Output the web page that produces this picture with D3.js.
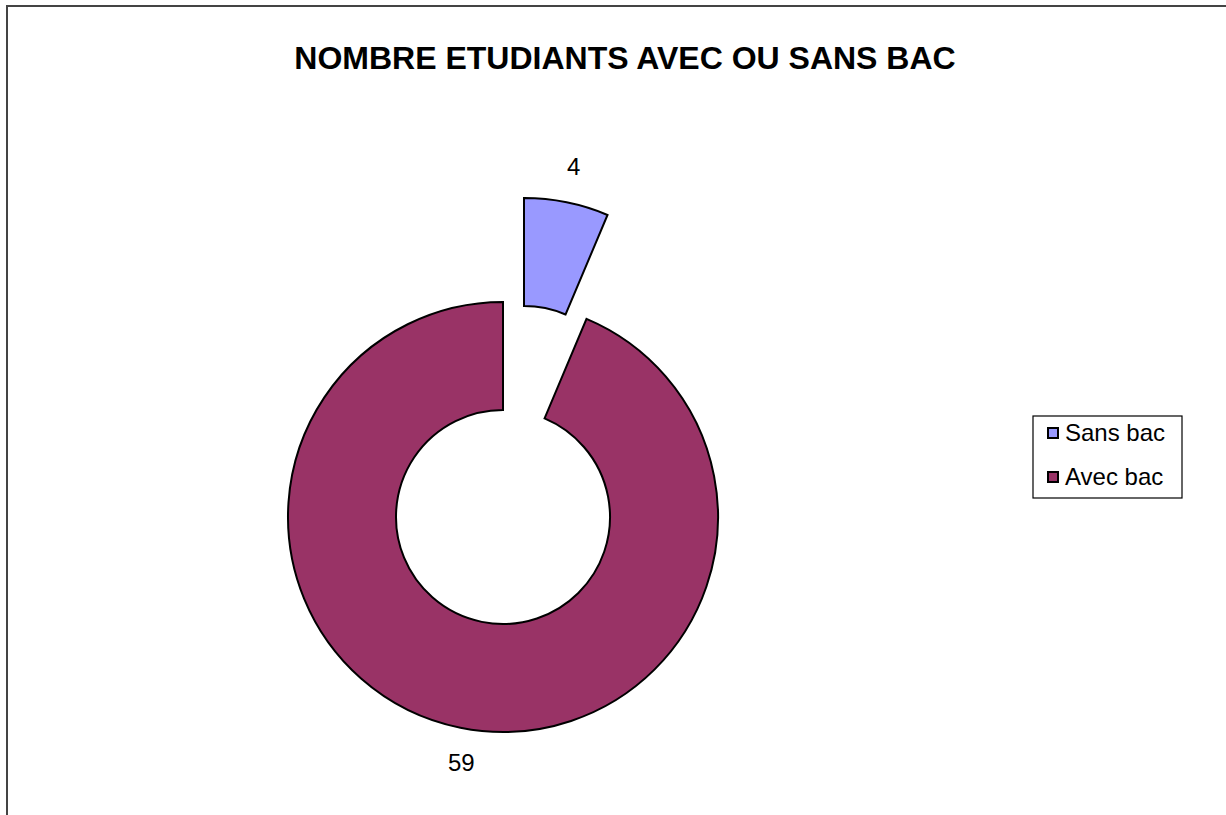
<!DOCTYPE html>
<html>
<head>
<meta charset="utf-8">
<script src="https://cdn.jsdelivr.net/npm/d3@7"></script>
<style>
html,body{margin:0;padding:0;background:#fff;}
svg{display:block;font-family:"Liberation Sans",Arial,sans-serif;}
</style>
</head>
<body>
<svg id="chart" width="1226" height="815"></svg>
<script>
const title = "NOMBRE ETUDIANTS AVEC OU SANS BAC";
const categories = ["Sans bac", "Avec bac"];
const values = [4, 59];
const colors = ["#9999FF", "#993366"];
const exploded = [true, false];

const svg = d3.select("#chart");
const W = 1226, H = 815;

// chart area border
svg.append("rect")
  .attr("x", 7).attr("y", 6).attr("width", W + 10).attr("height", H + 10)
  .attr("fill", "#fff").attr("stroke", "#444").attr("stroke-width", 2);

svg.append("text")
  .attr("x", 625).attr("y", 69)
  .attr("text-anchor", "middle")
  .attr("font-size", 32).attr("font-weight", "bold")
  .attr("fill", "#000")
  .text(title);

const cx = 503, cy = 517, outerR = 215, innerR = 107, explodeDist = 106, labelR = 251;

const pie = d3.pie().sort(null).value(d => d)(values);
const arc = d3.arc().innerRadius(innerR).outerRadius(outerR);

const g = svg.append("g").attr("transform", `translate(${cx},${cy})`);

pie.forEach((p, i) => {
  const mid = (p.startAngle + p.endAngle) / 2;
  const off = exploded[i] ? explodeDist : 0;
  const ox = off * Math.sin(mid), oy = -off * Math.cos(mid);
  const sg = g.append("g").attr("transform", `translate(${ox},${oy})`);
  sg.append("path")
    .attr("d", arc(p))
    .attr("fill", colors[i])
    .attr("stroke", "#000").attr("stroke-width", 2)
    .attr("stroke-linejoin", "miter");
  const lx = labelR * Math.sin(mid), ly = -labelR * Math.cos(mid);
  sg.append("text")
    .attr("x", lx + (i === 1 ? 8 : 0)).attr("y", ly + 8)
    .attr("text-anchor", "middle")
    .attr("font-size", 24)
    .attr("fill", "#000")
    .text(values[i]);
});

// legend
const lg = svg.append("g");
lg.append("rect")
  .attr("x", 1033).attr("y", 416).attr("width", 149).attr("height", 82)
  .attr("fill", "#fff").attr("stroke", "#000").attr("stroke-width", 1.2);
categories.forEach((c, i) => {
  const y = 433 + i * 44;
  lg.append("rect")
    .attr("x", 1048).attr("y", y - 5).attr("width", 10).attr("height", 10)
    .attr("fill", colors[i]).attr("stroke", "#000").attr("stroke-width", 2);
  lg.append("text")
    .attr("x", 1065).attr("y", y + 8)
    .attr("font-size", 24).attr("fill", "#000")
    .text(c);
});
</script>
</body>
</html>
